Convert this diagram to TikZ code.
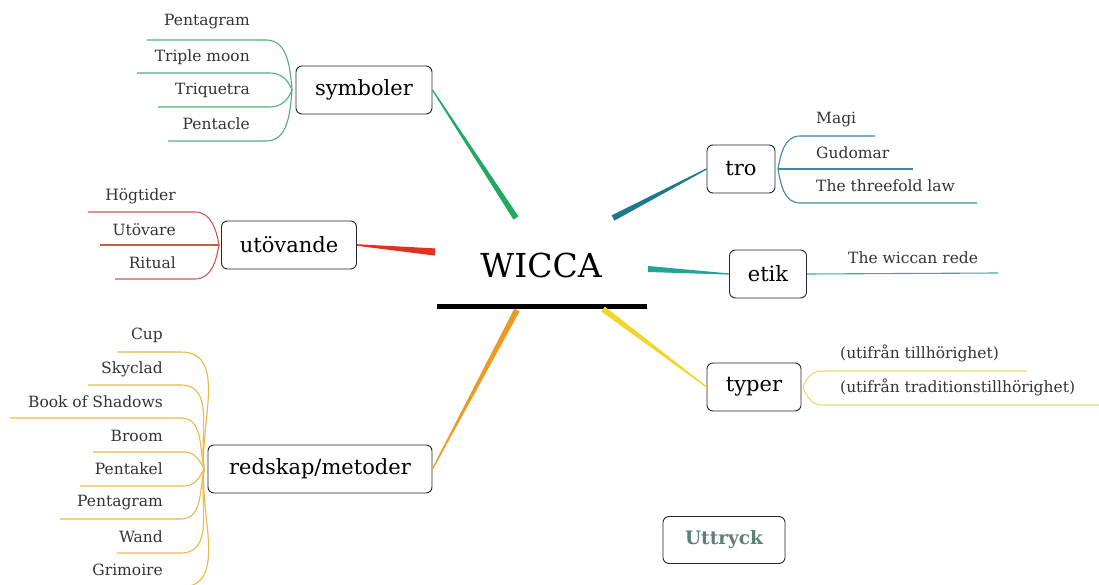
\documentclass[tikz,border=0pt]{standalone}
\usepackage{fontspec}
\setmainfont{DejaVu Serif}
\usetikzlibrary{calc}
\definecolor{cgreen}{HTML}{22A860}
\definecolor{lgreen}{HTML}{4DB07A}
\definecolor{cred}{HTML}{E03222}
\definecolor{lred}{HTML}{D4584A}
\definecolor{corange}{HTML}{EC9A22}
\definecolor{lorange}{HTML}{ECB848}
\definecolor{cteal}{HTML}{1A7A8C}
\definecolor{lteal}{HTML}{3A8C9C}
\definecolor{cetik}{HTML}{22A496}
\definecolor{letik}{HTML}{3AA8A0}
\definecolor{cyellow}{HTML}{F2D62A}
\definecolor{lyellow}{HTML}{E8DC70}
\definecolor{uttr}{HTML}{5E7E78}
\definecolor{leaftext}{HTML}{333333}
\newcommand{\taper}[5]{\fill[#5] ($(#1)!#3!90:(#2)$) -- ($(#2)!#4!-90:(#1)$) -- ($(#2)!#4!90:(#1)$) -- ($(#1)!#3!-90:(#2)$) -- cycle;}
\tikzset{
  topic/.style={draw=black!85, line width=0.9pt, rounded corners=6pt, fill=white, font=\fontsize{21}{24}\selectfont, inner xsep=9pt, inner ysep=0pt, minimum height=48pt},
  leafL/.style={anchor=east, text=leaftext, font=\fontsize{15.5}{18}\selectfont, inner sep=0pt},
  leafR/.style={anchor=west, text=leaftext, font=\fontsize{15.5}{18}\selectfont, inner sep=0pt},
  leafline/.style={line width=1.1pt}
}
\begin{document}
\begin{tikzpicture}[x=1pt,y=-1pt]
\useasboundingbox[fill=white] (0,0) rectangle (1099,585);
% central topic
\node[font=\fontsize{33}{36}\selectfont, inner sep=0pt] (wicca) at (541,265) {WICCA};
\coordinate (ulL) at (437,306);
\coordinate (ulR) at (647,306);
\draw[line width=5pt] (ulL) -- (ulR);
% main topics
\node[topic, minimum width=136pt] (sym) at (364,90) {symboler};
\node[topic, minimum width=135pt] (utv) at (289,245) {utövande};
\node[topic, minimum width=224pt] (red) at (320,469) {redskap/metoder};
\node[topic, minimum width=68pt] (tro) at (741,169) {tro};
\node[topic, minimum width=77pt] (etik) at (768,274) {etik};
\node[topic, minimum width=94pt] (typ) at (754,387) {typer};
\node[topic, minimum width=122pt, minimum height=47pt, font=\fontsize{18.5}{21}\selectfont\bfseries, text=uttr] (utt) at (724,540) {Uttryck};
% branch ends near center
\coordinate (eSym) at (516,218);
\coordinate (eUtv) at (435,252);
\coordinate (eRed) at (517,310);
\coordinate (eTro) at (613,218);
\coordinate (eEtik) at (648,269);
\coordinate (eTyp) at (603,309);
\taper{sym.east}{eSym}{0.6pt}{3.0pt}{cgreen}
\taper{utv.east}{eUtv}{0.8pt}{3.6pt}{cred}
\taper{red.east}{eRed}{0.6pt}{3.0pt}{corange}
\taper{tro.west}{eTro}{0.6pt}{3.0pt}{cteal}
\taper{etik.west}{eEtik}{0.6pt}{3.0pt}{cetik}
\taper{typ.west}{eTyp}{0.6pt}{3.0pt}{cyellow}
% symboler leaves
\coordinate (jSym) at (292,90);
\node[leafL] (s1) at (250,22) {Pentagram};
\node[leafL] (s2) at (250,57) {Triple moon};
\node[leafL] (s3) at (250,90) {Triquetra};
\node[leafL] (s4) at (250,124) {Pentacle};
\begin{scope}[leafline, color=lgreen]
\draw (jSym) to[out=95,in=0] (266,40) -- (147,40);
\draw (jSym) to[out=110,in=0] (270,73) -- (137,73);
\draw (jSym) to[out=250,in=0] (270,107) -- (158,107);
\draw (jSym) to[out=265,in=0] (266,141) -- (168,141);
\end{scope}
% utovande leaves
\coordinate (jUtv) at (219,245);
\node[leafL] (u1) at (176,196) {Högtider};
\node[leafL] (u2) at (176,230) {Utövare};
\node[leafL] (u3) at (176,263) {Ritual};
\begin{scope}[leafline, color=lred]
\draw (jUtv) to[out=100,in=0] (195,212) -- (88,212);
\draw (jUtv) -- (100,245);
\draw (jUtv) to[out=260,in=0] (195,279) -- (115,279);
\end{scope}
% redskap leaves
\coordinate (jRed) at (204,469);
\node[leafL] (r1) at (163,335) {Cup};
\node[leafL] (r2) at (163,369) {Skyclad};
\node[leafL] (r3) at (163,402) {Book of Shadows};
\node[leafL] (r4) at (163,436) {Broom};
\node[leafL] (r5) at (163,469) {Pentakel};
\node[leafL] (r6) at (163,503) {Pentagram};
\node[leafL] (r7) at (163,537) {Wand};
\node[leafL] (r8) at (163,570) {Grimoire};
\begin{scope}[leafline, color=lorange]
\draw (jRed) to[out=95,in=0] (181,352) -- (117,352);
\draw (jRed) to[out=98,in=0] (181,385) -- (88,385);
\draw (jRed) to[out=102,in=0] (181,418) -- (10,418);
\draw (jRed) to[out=115,in=0] (184,452) -- (93,452);
\draw (jRed) to[out=245,in=0] (184,486) -- (80,486);
\draw (jRed) to[out=258,in=0] (181,519) -- (60,519);
\draw (jRed) to[out=262,in=0] (181,553) -- (117,553);
\draw (jRed) to[out=265,in=0] (181,587) -- (120,587);
\end{scope}
% tro leaves
\coordinate (jTro) at (778,169);
\node[leafR] (t1) at (816,120) {Magi};
\node[leafR] (t2) at (816,153) {Gudomar};
\node[leafR] (t3) at (816,186) {The threefold law};
\begin{scope}[leafline, color=lteal]
\draw (jTro) to[out=80,in=180] (800,136) -- (875,136);
\draw (jTro) -- (913,169);
\draw (jTro) to[out=280,in=180] (800,203) -- (977,203);
\end{scope}
% etik leaf
\node[leafR] (e1) at (848,258) {The wiccan rede};
\draw[leafline, color=letik] (etik.east) -- (998,273);
% typer leaves
\coordinate (jTyp) at (803,387);
\node[leafR] (y1) at (840,353) {(utifrån tillhörighet)};
\node[leafR] (y2) at (840,387) {(utifrån traditionstillhörighet)};
\begin{scope}[leafline, color=lyellow]
\draw (jTyp) to[out=70,in=180] (822,371) -- (1027,371);
\draw (jTyp) to[out=290,in=180] (822,405) -- (1099,405);
\end{scope}
\end{tikzpicture}
\end{document}
